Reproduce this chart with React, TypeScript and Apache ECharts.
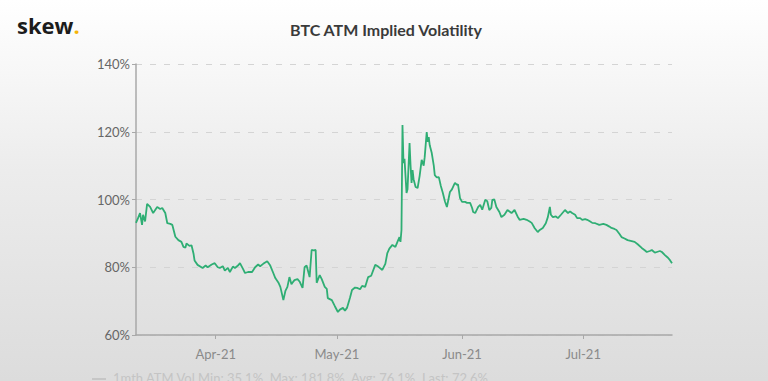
import React, { useEffect, useRef } from "react";
import * as echarts from "echarts";

// 1-month ATM implied volatility, 6-hourly readings (local time)
const times: string[] = [
  "2021-03-12 06:00", "2021-03-12 18:00", "2021-03-13 06:00", "2021-03-13 18:00", "2021-03-14 00:00",
  "2021-03-14 12:00", "2021-03-15 00:00", "2021-03-15 18:00", "2021-03-16 12:00", "2021-03-17 12:00",
  "2021-03-18 06:00", "2021-03-18 18:00", "2021-03-19 12:00", "2021-03-20 00:00", "2021-03-20 18:00",
  "2021-03-21 06:00", "2021-03-22 00:00", "2021-03-22 18:00", "2021-03-23 12:00", "2021-03-24 00:00",
  "2021-03-24 12:00", "2021-03-24 18:00", "2021-03-25 12:00", "2021-03-26 00:00", "2021-03-26 12:00",
  "2021-03-26 18:00", "2021-03-27 12:00", "2021-03-28 18:00", "2021-03-29 12:00", "2021-03-30 00:00",
  "2021-03-31 00:00", "2021-03-31 18:00", "2021-04-01 12:00", "2021-04-02 00:00", "2021-04-02 18:00",
  "2021-04-03 06:00", "2021-04-04 00:00", "2021-04-04 12:00", "2021-04-05 06:00", "2021-04-05 18:00",
  "2021-04-06 12:00", "2021-04-07 00:00", "2021-04-07 18:00", "2021-04-08 06:00", "2021-04-09 00:00",
  "2021-04-10 00:00", "2021-04-10 18:00", "2021-04-11 12:00", "2021-04-12 00:00", "2021-04-12 18:00",
  "2021-04-13 18:00", "2021-04-14 12:00", "2021-04-15 06:00", "2021-04-15 18:00", "2021-04-16 12:00",
  "2021-04-17 00:00", "2021-04-17 18:00", "2021-04-18 06:00", "2021-04-18 18:00", "2021-04-19 06:00",
  "2021-04-19 18:00", "2021-04-20 00:00", "2021-04-20 12:00", "2021-04-21 06:00", "2021-04-21 18:00",
  "2021-04-22 12:00", "2021-04-23 00:00", "2021-04-23 12:00", "2021-04-24 06:00", "2021-04-24 18:00",
  "2021-04-25 06:00", "2021-04-25 18:00", "2021-04-26 00:00", "2021-04-26 18:00", "2021-04-27 06:00",
  "2021-04-28 00:00", "2021-04-28 12:00", "2021-04-28 18:00", "2021-04-29 18:00", "2021-04-30 12:00",
  "2021-05-01 06:00", "2021-05-01 18:00", "2021-05-02 12:00", "2021-05-03 00:00", "2021-05-03 12:00",
  "2021-05-04 06:00", "2021-05-04 18:00", "2021-05-05 12:00", "2021-05-06 00:00", "2021-05-06 18:00",
  "2021-05-07 06:00", "2021-05-08 00:00", "2021-05-08 18:00", "2021-05-09 12:00", "2021-05-10 12:00",
  "2021-05-11 06:00", "2021-05-12 06:00", "2021-05-13 00:00", "2021-05-13 12:00", "2021-05-14 00:00",
  "2021-05-14 18:00", "2021-05-15 12:00", "2021-05-16 00:00", "2021-05-16 12:00", "2021-05-16 18:00",
  "2021-05-17 00:00", "2021-05-17 06:00", "2021-05-17 12:00", "2021-05-17 18:00", "2021-05-18 06:00",
  "2021-05-18 12:00", "2021-05-19 00:00", "2021-05-19 06:00", "2021-05-19 12:00", "2021-05-19 18:00",
  "2021-05-20 00:00", "2021-05-20 12:00", "2021-05-21 00:00", "2021-05-21 12:00", "2021-05-22 00:00",
  "2021-05-22 12:00", "2021-05-22 18:00", "2021-05-23 06:00", "2021-05-23 12:00", "2021-05-23 18:00",
  "2021-05-24 00:00", "2021-05-24 12:00", "2021-05-25 00:00", "2021-05-25 06:00", "2021-05-25 18:00",
  "2021-05-26 06:00", "2021-05-26 18:00", "2021-05-27 06:00", "2021-05-27 18:00", "2021-05-28 06:00",
  "2021-05-29 00:00", "2021-05-29 12:00", "2021-05-30 00:00", "2021-05-30 06:00", "2021-05-30 18:00",
  "2021-05-31 00:00", "2021-05-31 12:00", "2021-06-01 00:00", "2021-06-01 18:00", "2021-06-02 06:00",
  "2021-06-03 00:00", "2021-06-03 12:00", "2021-06-03 18:00", "2021-06-04 06:00", "2021-06-05 00:00",
  "2021-06-05 12:00", "2021-06-06 00:00", "2021-06-06 18:00", "2021-06-07 06:00", "2021-06-07 18:00",
  "2021-06-08 06:00", "2021-06-08 12:00", "2021-06-09 00:00", "2021-06-09 12:00", "2021-06-10 06:00",
  "2021-06-10 18:00", "2021-06-11 12:00", "2021-06-12 06:00", "2021-06-13 06:00", "2021-06-14 00:00",
  "2021-06-14 18:00", "2021-06-15 06:00", "2021-06-16 06:00", "2021-06-17 00:00", "2021-06-17 18:00",
  "2021-06-18 06:00", "2021-06-19 00:00", "2021-06-19 18:00", "2021-06-20 06:00", "2021-06-21 00:00",
  "2021-06-21 18:00", "2021-06-22 06:00", "2021-06-22 18:00", "2021-06-23 00:00", "2021-06-23 12:00",
  "2021-06-24 06:00", "2021-06-24 18:00", "2021-06-25 12:00", "2021-06-26 12:00", "2021-06-27 06:00",
  "2021-06-27 18:00", "2021-06-28 06:00", "2021-06-29 00:00", "2021-06-29 12:00", "2021-06-30 06:00",
  "2021-06-30 18:00", "2021-07-01 12:00", "2021-07-02 00:00", "2021-07-02 18:00", "2021-07-03 06:00",
  "2021-07-04 00:00", "2021-07-05 00:00", "2021-07-06 00:00", "2021-07-06 18:00", "2021-07-07 12:00",
  "2021-07-08 00:00", "2021-07-08 18:00", "2021-07-09 06:00", "2021-07-10 00:00", "2021-07-10 12:00",
  "2021-07-11 06:00", "2021-07-12 00:00", "2021-07-12 18:00", "2021-07-13 18:00", "2021-07-14 12:00",
  "2021-07-15 12:00", "2021-07-16 06:00", "2021-07-16 18:00", "2021-07-17 12:00", "2021-07-18 00:00",
  "2021-07-18 18:00", "2021-07-19 06:00", "2021-07-20 00:00", "2021-07-20 12:00", "2021-07-21 06:00",
  "2021-07-22 00:00", "2021-07-22 12:00", "2021-07-23 00:00",
];

const atmVol: number[] = [
  93.1, 94.5, 96, 92.5, 95.5,
  93.5, 98.7, 97.8, 96, 97.8,
  97.2, 97.5, 96, 93, 92.8,
  92.5, 89, 88, 87.5, 86,
  85.8, 87, 86.3, 86.5, 84,
  82, 80.7, 79.8, 80.5, 80,
  80.8, 81.2, 80, 79.8, 80.3,
  79, 79.8, 78.6, 80.2, 79.8,
  80.5, 81.2, 79.5, 78.3, 78.6,
  78.6, 80, 80.8, 80.3, 81,
  81.8, 80.5, 78.3, 76.8, 75.5,
  74.2, 70.3, 73, 74.2, 77.1,
  75, 75.4, 76.2, 76.5, 75.8,
  73.9, 80, 80.5, 77.1, 85.1,
  85, 85.1, 75.4, 77.7, 76.5,
  74.2, 73.6, 70.9, 70.3, 68.5,
  66.8, 67.5, 68, 67.2, 68,
  71, 73.3, 74, 73.9, 73.5,
  74.5, 74.2, 77.1, 77.5, 80.7,
  80.2, 79.2, 81, 84.2, 85.5,
  86.6, 86, 87.5, 88.9, 87.5,
  91, 122, 110.8, 112, 101.9,
  103, 116.7, 110, 104.9, 108.7,
  106, 103.7, 103.4, 107, 111.7,
  110, 112.5, 119.9, 117, 118.4,
  116, 113.7, 110, 107.2, 106.5,
  106.6, 104, 101.9, 99.5, 97.8,
  102.2, 103, 104.3, 104.9, 104.3,
  104.5, 100.4, 99.3, 99.3, 99,
  99, 97.5, 96.3, 96, 97.8,
  98.4, 97, 99.9, 99.5, 96.9,
  97.5, 99.9, 100, 97.8, 96.3,
  94.8, 95.5, 96.9, 96, 96.9,
  95, 94, 94.3, 94, 93.5,
  93.1, 91.5, 90.4, 91, 91.6,
  93, 94.8, 97.8, 95.5, 94.8,
  95, 94.5, 95.5, 96.9, 96,
  96.5, 96, 95.5, 94.5, 94.5,
  94, 94.2, 94, 93.5, 93.1,
  93, 92.5, 92.8, 92.5, 92,
  91.6, 91.3, 91, 89.8, 88.9,
  88.5, 88, 87.8, 87.5, 86.8,
  85.7, 85, 84.5, 84.8, 85.1,
  84.3, 84.5, 84.8, 84.5, 83.6,
  82.8, 82.1, 81.2,
];

const monthNames: string[] = ["Jan", "Feb", "Mar", "Apr", "May", "Jun", "Jul", "Aug", "Sep", "Oct", "Nov", "Dec"];

const seriesName = "1mth ATM Vol";
const legendStats = "Min: 35.1%  Max: 181.8%  Avg: 76.1%  Last: 72.6%";
const titleText = "BTC ATM Implied Volatility";

const FONT = "Lato, 'Open Sans', sans-serif";
const DAY = 24 * 3600 * 1000;

export default function App() {
  const ref = useRef<HTMLDivElement>(null);

  useEffect(() => {
    if (!ref.current) return;
    const chart = echarts.init(ref.current, null, { renderer: "svg" });
    const points = times.map((t, i) => [t, atmVol[i]]);

    chart.setOption({
      animation: false,
      backgroundColor: new echarts.graphic.LinearGradient(0, 0, 0, 1, [
        { offset: 0, color: "#ffffff" },
        { offset: 0.45, color: "#ececec" },
        { offset: 1, color: "#dcdcdc" },
      ]),
      textStyle: { fontFamily: FONT },
      title: {
        text: titleText,
        left: 381,
        textAlign: "center",
        top: 16,
        textStyle: { fontFamily: FONT, fontSize: 16, fontWeight: "bold", color: "#3a3a3a" },
      },
      grid: { left: 136, right: 96, top: 64, bottom: 46 },
      xAxis: {
        type: "time",
        min: "dataMin",
        max: "dataMax",
        splitNumber: 4,
        minInterval: 28 * DAY,
        axisLine: { lineStyle: { color: "#a8a8a8", width: 1.5 } },
        axisTick: { show: true, length: 4, lineStyle: { color: "#a8a8a8" } },
        axisLabel: {
          color: "#8a8a8a",
          fontSize: 13,
          fontFamily: FONT,
          margin: 12,
          hideOverlap: false,
          formatter: (v: number) => {
            const d = new Date(v);
            return monthNames[d.getMonth()] + "-" + String(d.getFullYear()).slice(2);
          },
        },
        splitLine: { show: false },
      },
      yAxis: {
        type: "value",
        min: 60,
        max: 140,
        interval: 20,
        axisLine: { show: true, lineStyle: { color: "#a8a8a8", width: 1.5 } },
        axisTick: { show: true, length: 4, lineStyle: { color: "#a8a8a8" } },
        axisLabel: {
          color: "#666666",
          fontSize: 13,
          fontFamily: FONT,
          margin: 6,
          formatter: "{value}%",
        },
        splitLine: { show: true, lineStyle: { color: "#d4d4d4", type: [6, 8], width: 1 } },
      },
      series: [
        {
          name: seriesName,
          type: "line",
          data: points,
          showSymbol: false,
          symbol: "none",
          lineStyle: { color: "#2fae74", width: 1.8 },
        },
      ],
      graphic: [
        {
          type: "text",
          left: 17,
          top: 14,
          style: {
            text: "{a|skew}{b|.}",
            rich: {
              a: { fontFamily: "'Open Sans', sans-serif", fontWeight: "bold", fontSize: 22, fill: "#1c1c1c" },
              b: { fontFamily: "'Open Sans', sans-serif", fontWeight: "bold", fontSize: 22, fill: "#f5b50a" },
            },
          },
        },
        {
          type: "line",
          shape: { x1: 92, y1: 379, x2: 106, y2: 379 },
          style: { stroke: "#c6c6c6", lineWidth: 2 },
        },
        {
          type: "text",
          left: 113,
          top: 371,
          style: {
            text: seriesName + " " + legendStats,
            fontFamily: FONT,
            fontSize: 13,
            fill: "#c4c4c4",
          },
        },
      ],
    });

    return () => chart.dispose();
  }, []);

  return (
    <div
      ref={ref}
      style={{ position: "fixed", left: 0, top: 0, width: 768, height: 381 }}
    />
  );
}
